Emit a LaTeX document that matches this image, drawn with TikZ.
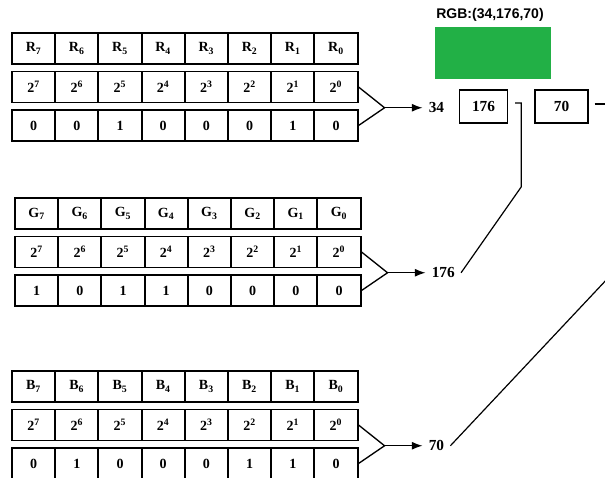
\documentclass[tikz,border=0pt]{standalone}
\usepackage{fontspec}
\setmainfont{Liberation Serif}
\newfontfamily\labelfont{Liberation Sans}
\usetikzlibrary{positioning, arrows.meta, calc}
\definecolor{rgbgreen}{RGB}{34,176,70}
\tikzset{
  cell/.style={draw, line width=1.4pt, minimum width=32.4pt, minimum height=23.25pt, inner sep=0pt,
    font=\fontsize{10.5}{12}\selectfont\bfseries},
  val/.style={inner sep=4.5pt, font=\fontsize{11.5}{13}\selectfont\bfseries},
  valbox/.style={draw, line width=1pt, minimum height=24.75pt, inner sep=0pt, font=\fontsize{11.5}{13}\selectfont\bfseries},
  fork/.style={line width=1pt},
  link/.style={line width=0.9pt},
  arr/.style={-{Latex[length=8pt, width=6pt]}, line width=1pt},
}

\begin{document}
\begin{tikzpicture}[x=0.75pt, y=-0.75pt]
  \path[use as bounding box, clip] (0,0) rectangle (605,477);
  % the three channel tables: bit names, weights, bits
  \foreach \t/\L/\x/\y/\bits in {r/R/12/48.5/{0,0,1,0,0,0,1,0}, g/G/15/213.5/{1,0,1,1,0,0,0,0}, b/B/12/386.5/{0,1,0,0,0,1,1,0}} {
    \foreach \b [count=\i from 0] in \bits {
      \pgfmathtruncatemacro\k{7-\i}
      \node[cell] (\t1-\i) at (\x+21.6+43.2*\i, \y) {\L\textsubscript{\k}};
      \node[cell] (\t2-\i) at (\x+21.6+43.2*\i, \y+38.5) {2\textsuperscript{\k}};
      \node[cell] (\t3-\i) at (\x+21.6+43.2*\i, \y+77) {\b};
    }
    \coordinate (\t-fork) at ($(\t2-7.east)!0.5!(\t3-7.east)+(26,1.5)$);
    \draw[fork] (\t2-7.east) -- (\t-fork) -- (\t3-7.east);
  }
  \foreach \t/\v in {r/34, g/176, b/70} {
    \node[val, right=28.5pt of \t-fork] (\t-val) {\v};
    \draw[arr] (\t-fork) -- (\t-val.west);
  }

  % colour result
  \node[font=\labelfont\bfseries\fontsize{10.5}{12}\selectfont] (rgb-label) at (490,15) {RGB:(34,176,70)};
  \node[fill=rgbgreen, minimum width=87pt, minimum height=39pt, inner sep=0pt] (swatch) at (493,53) {};
  \node[valbox, minimum width=36pt] (g-out) at (483.5,106.5) {176};
  \node[valbox, minimum width=39.75pt] (b-out) at (561.5,106.5) {70};

  \coordinate (b-tail) at (615,104);
  \coordinate (b-exit) at (625,260);
  \draw[link] ($(g-out.east)+(7,-3.5)$) -- ++(6,0) -- ++(0,84) -- (g-val.east);
  \draw[link] ($(b-out.east)+(6,-2.5)$) -- (b-tail);
  \draw[link] (b-val.east) -- (b-exit);
\end{tikzpicture}
\end{document}
